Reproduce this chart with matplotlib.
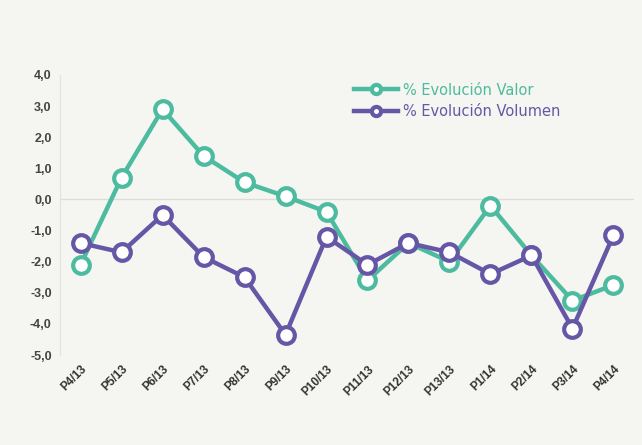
import matplotlib
matplotlib.use('Agg')
import matplotlib.pyplot as plt

plt.rcParams['font.family'] = ['Liberation Sans', 'DejaVu Sans']

periods = ["P4/13", "P5/13", "P6/13", "P7/13", "P8/13", "P9/13", "P10/13",
           "P11/13", "P12/13", "P13/13", "P1/14", "P2/14", "P3/14", "P4/14"]
valor = [-2.1, 0.7, 2.9, 1.4, 0.55, 0.1, -0.4, -2.6, -1.4, -2.0, -0.2, -1.8, -3.25, -2.75]
volumen = [-1.4, -1.7, -0.5, -1.85, -2.5, -4.35, -1.2, -2.1, -1.4, -1.7, -2.4, -1.8, -4.15, -1.15]
yticks = [4, 3, 2, 1, 0, -1, -2, -3, -4, -5]

bg = '#f5f5f1'
teal = '#4dbb9f'
purple = '#6657a6'

fig = plt.figure(figsize=(6.42, 4.45), dpi=100, facecolor=bg)
ax = fig.add_axes([0.0935, 0.2022, 0.894, 0.6293], facecolor=bg)

x = list(range(len(periods)))
ax.axhline(0, color='#dcdcdc', lw=1, zorder=1)
ax.plot(x, valor, color=teal, lw=3.2, marker='o', ms=12, mfc='white',
        mec=teal, mew=3, label='% Evolución Valor', zorder=3)
ax.plot(x, volumen, color=purple, lw=3.2, marker='o', ms=12, mfc='white',
        mec=purple, mew=3, label='% Evolución Volumen', zorder=4)

ax.set_xlim(-0.5, len(periods) - 0.5)
ax.set_ylim(-5, 4)
ax.set_yticks(yticks)
ax.set_yticklabels([f"{v:.1f}".replace('.', ',') for v in yticks],
                   fontsize=9, fontweight='bold', color='#444444')
ax.set_xticks(x)
ax.set_xticklabels(periods, rotation=45, ha='right', rotation_mode='anchor',
                   fontsize=8.5, fontweight='bold', color='#333333')
ax.tick_params(length=0, pad=6)
for s in ['top', 'right', 'bottom']:
    ax.spines[s].set_visible(False)
ax.spines['left'].set_color('#e2e2e2')

leg = ax.legend(loc='upper left', bbox_to_anchor=(0.49, 1.02), frameon=False,
                prop={'family': 'DejaVu Sans', 'size': 10.5},
                handlelength=3.0, handletextpad=0.3,
                markerscale=0.55, labelspacing=0.45)
for txt, c in zip(leg.get_texts(), [teal, purple]):
    txt.set_color(c)

fig.savefig('out.png', dpi=100, facecolor=bg)
